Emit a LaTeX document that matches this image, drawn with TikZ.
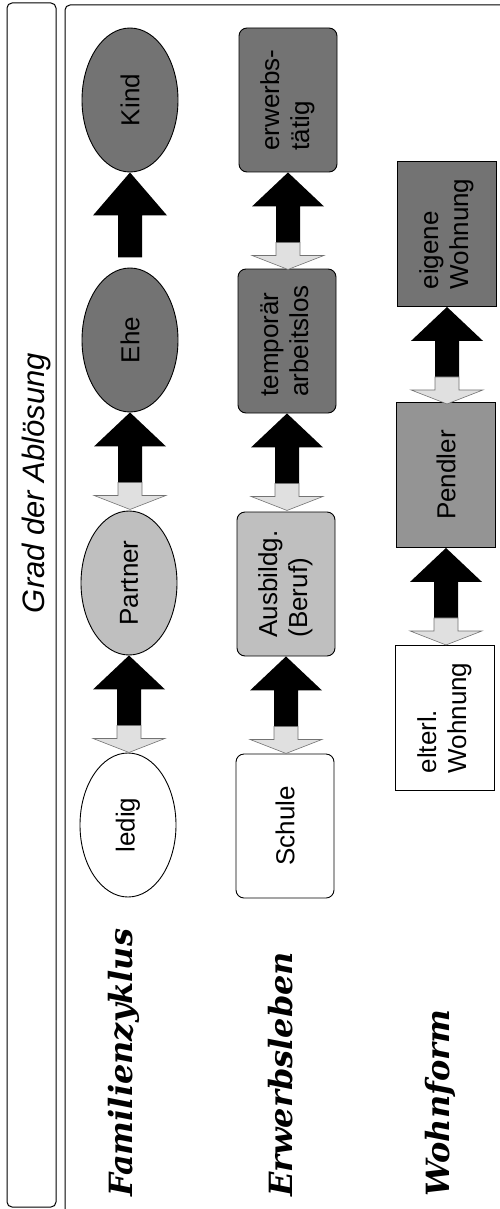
\documentclass[tikz,border=0pt]{standalone}
\usepackage{fontspec}
\setmainfont{Liberation Sans}
\newfontfamily\kopffont{DejaVu Serif}
\usetikzlibrary{shapes.geometric}
\newcommand{\doppelpfeil}{\fill[black] (0,0) -- (36,34) -- (12,34) -- (12,70) -- (-12,70) -- (-12,34) -- (-36,34) -- cycle;
			\draw[fill=black!12, draw=black!55, line width=0.6pt] (-12,70) -- (12,70) -- (12,83) -- (36,83) -- (0,97) -- (-36,83) -- (-12,83) -- cycle;}
\newcommand{\einzelpfeil}{\fill[black] (0,0) -- (37,43) -- (12,43) -- (12,85) -- (-12,85) -- (-12,43) -- (-37,43) -- cycle;}
\newcommand{\zweizeilig}[2]{\rotatebox{90}{\begin{tabular}{@{}l@{}}#1\\#2\end{tabular}}}
\tikzset{
	stufe/.style = {draw, line width=0.9pt, minimum width=96pt, minimum height=144pt, inner sep=2pt, font=\fontsize{26}{30}\selectfont},
	oval/.style = {stufe, ellipse},
	kasten/.style = {stufe, rounded corners=8pt, minimum width=98pt},
	eckig/.style = {stufe, minimum width=99pt, minimum height=145pt},
	zeile/.style = {rotate=90, anchor=west, inner sep=0pt, font=\kopffont\bfseries\itshape\fontsize{32}{34}\selectfont}
}

\begin{document}
\begin{tikzpicture}[x=1pt, y=-1pt]
	\useasboundingbox (0,0) rectangle (500,1209);

	\draw[line width=1pt, rounded corners=5pt] (7,3) rectangle (56,1207);
	\draw[line width=1pt, rounded corners=5pt] (65,1215) -- (65,5) -- (505,5);
	\node[rotate=90, font=\itshape\fontsize{31}{34}\selectfont] (grad) at (36,483) {Grad der Abl\"osung};

	\node[oval, fill=black!55] (kind) at (130,100) {\rotatebox{90}{Kind}};
	\node[oval, fill=black!55] (ehe) at (130,340) {\rotatebox{90}{Ehe}};
	\node[oval, fill=black!25] (partner) at (129,583) {\rotatebox{90}{Partner}};
	\node[oval, fill=white] (ledig) at (128,825) {\rotatebox{90}{ledig}};

	\node[kasten, fill=black!55] (erwerb) at (288,100) {\zweizeilig{erwerbs-}{t\"atig}};
	\node[kasten, fill=black!55] (temporaer) at (287,341) {\zweizeilig{tempor\"ar}{arbeitslos}};
	\node[kasten, fill=black!25] (ausbildung) at (286,584) {\zweizeilig{Ausbildg.}{(Beruf)}};
	\node[kasten, fill=white] (schule) at (285,826) {\rotatebox{90}{Schule}};

	\node[eckig, fill=black!55] (eigene) at (447,234) {\zweizeilig{eigene}{Wohnung}};
	\node[eckig, fill=black!42] (pendler) at (446,475) {\rotatebox{90}{Pendler}};
	\node[eckig, fill=white] (elterl) at (445,718) {\zweizeilig{elterl.}{Wohnung}};

	\begin{scope}[shift={(kind.south)}]
		\einzelpfeil
	\end{scope}
	\begin{scope}[shift={(ehe.south)}]
		\doppelpfeil
	\end{scope}
	\begin{scope}[shift={(partner.south)}]
		\doppelpfeil
	\end{scope}

	\begin{scope}[shift={(erwerb.south)}]
		\doppelpfeil
	\end{scope}
	\begin{scope}[shift={(temporaer.south)}]
		\doppelpfeil
	\end{scope}
	\begin{scope}[shift={(ausbildung.south)}]
		\doppelpfeil
	\end{scope}

	\begin{scope}[shift={(eigene.south)}]
		\doppelpfeil
	\end{scope}
	\begin{scope}[shift={(pendler.south)}]
		\doppelpfeil
	\end{scope}

	\node[zeile] (familie) at (124,1197) {Familienzyklus};
	\node[zeile] (erwerbsleben) at (281,1197) {Erwerbsleben};
	\node[zeile] (wohnform) at (440,1197) {Wohnform};
\end{tikzpicture}
\end{document}
